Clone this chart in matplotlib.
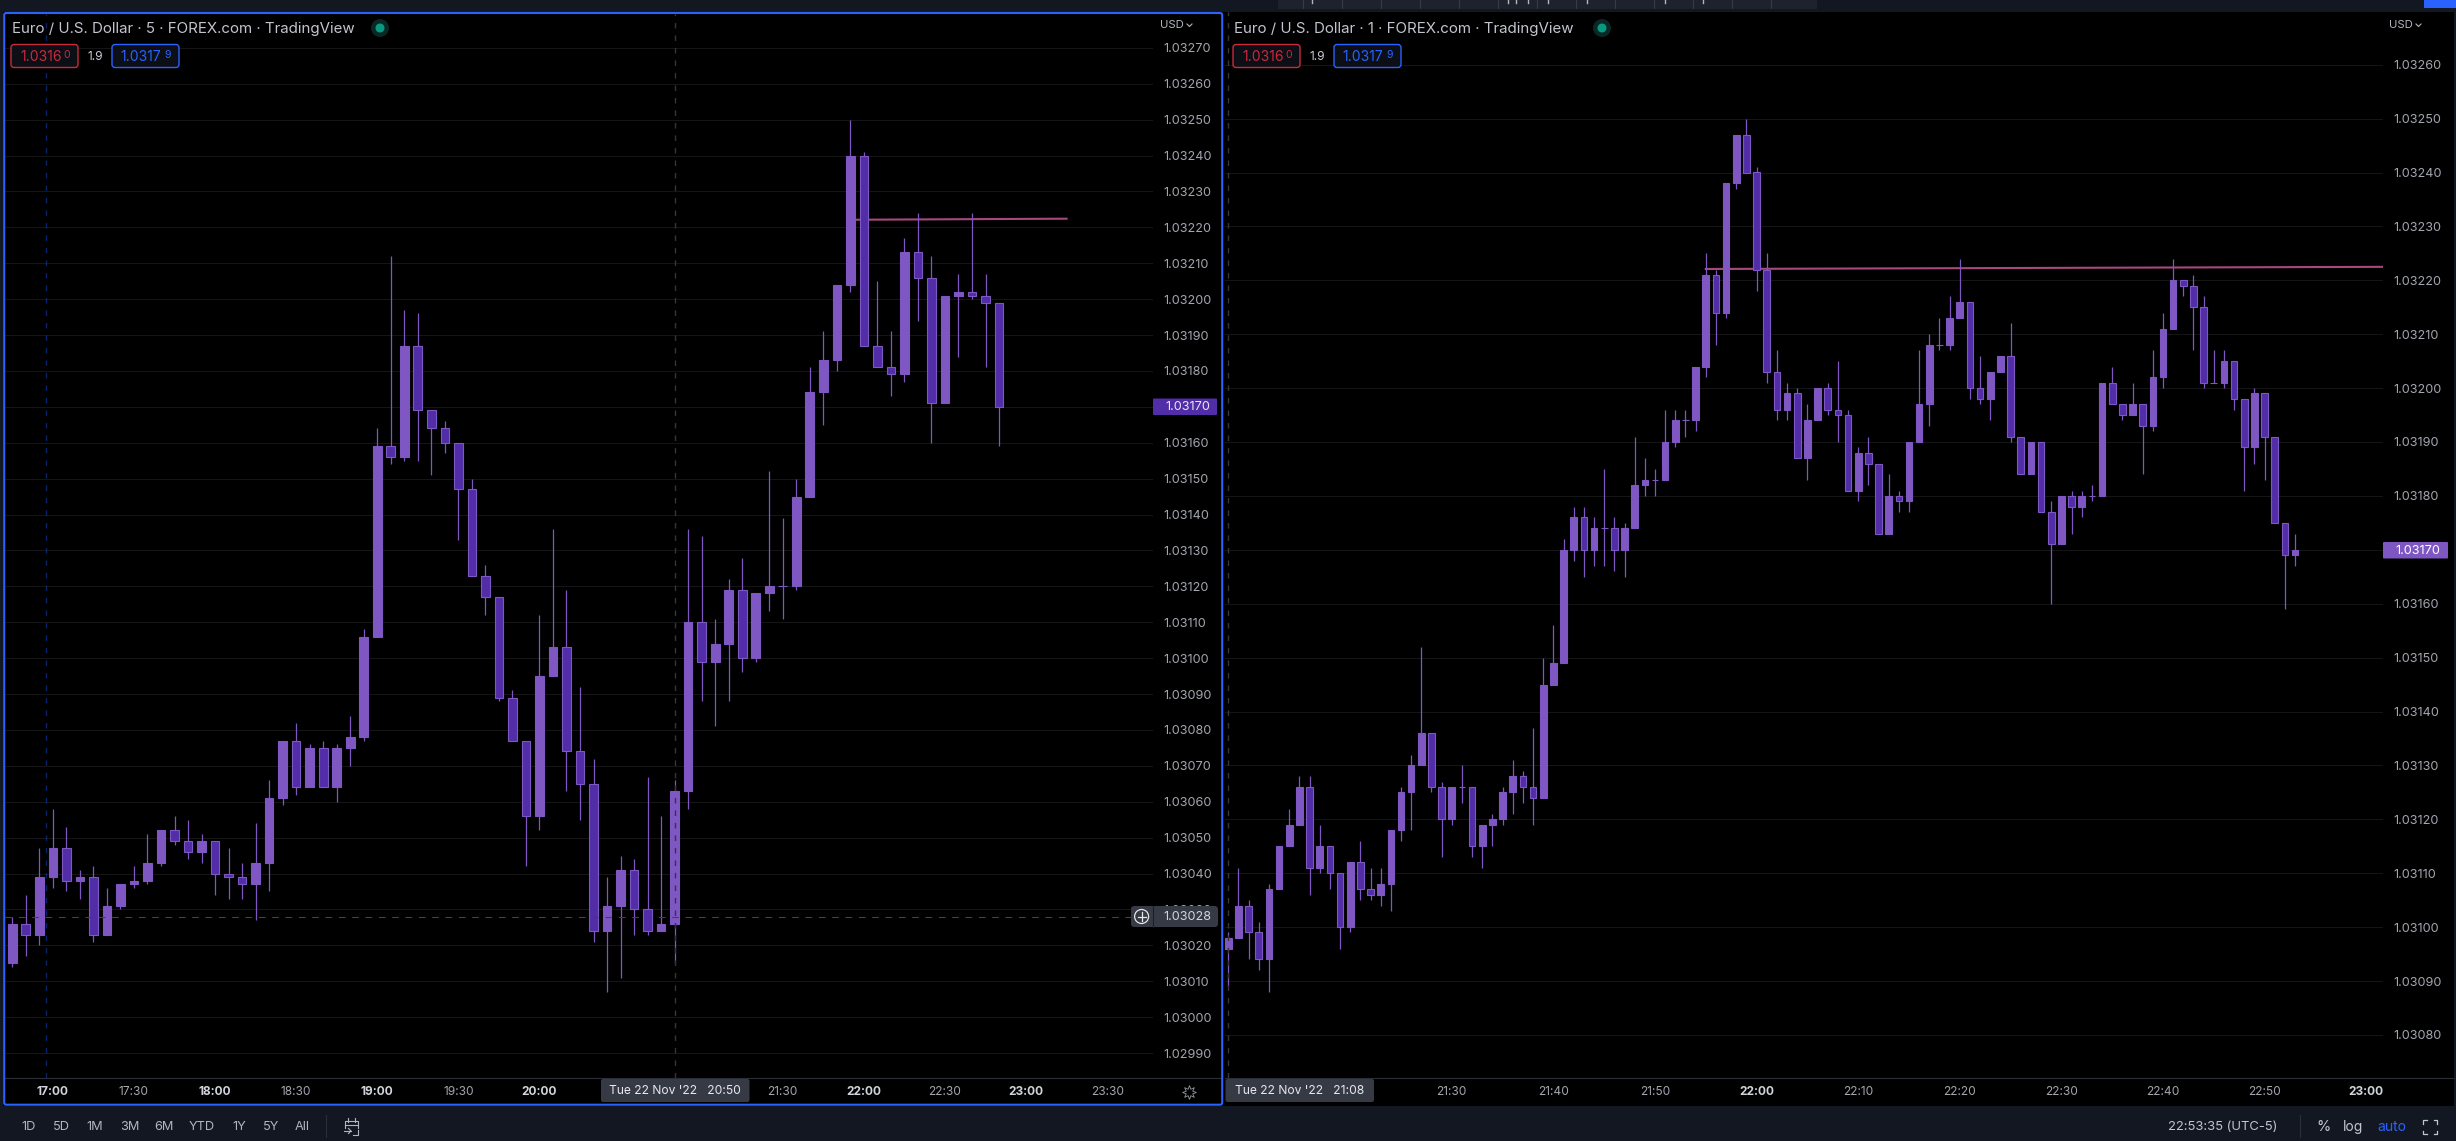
import matplotlib
matplotlib.use('Agg')
import matplotlib.pyplot as plt
from matplotlib.patches import FancyBboxPatch, Rectangle, Circle
from matplotlib.ticker import FuncFormatter
import numpy as np

W, H = 2456, 1141
plt.rcParams['font.family'] = ['Inter', 'DejaVu Sans']

BASE = 1.03
UP = '#7e57c2'
DOWN = '#512da8'
PINK = '#a8487f'

# 5 minute chart, prices in points above 1.03000, first bar 16:45
left_start = 16 * 60 + 45
left_open = [15,26,23,39,47,38,39,23,31,37,
             38,43,52,49,46,49,40,39,37,43,
             61,77,64,75,64,75,78,106,159,156,
             187,169,164,160,147,123,117,89,77,56,
             95,103,74,65,24,31,41,30,24,26,
             63,110,99,104,119,100,118,120,120,145,
             174,183,204,240,187,181,179,213,206,171,
             201,202,201,199]
left_high = [28,34,47,58,53,41,42,36,37,42,
             51,52,56,55,51,49,47,43,54,66,
             77,82,76,77,76,84,108,164,212,197,
             196,169,166,160,150,126,117,91,77,112,
             136,119,92,72,39,45,44,67,56,66,
             136,134,111,122,128,118,152,139,150,181,
             191,204,250,241,205,191,217,224,212,201,
             207,224,207,199]
left_low = [14,17,20,36,35,33,21,23,30,36,
            37,42,48,44,43,34,33,33,27,35,
            59,62,64,64,60,70,77,106,154,155,
            155,151,157,133,123,112,88,77,42,52,
            95,63,55,21,7,11,23,23,24,15,
            58,88,81,88,96,99,113,111,119,145,
            165,180,202,187,181,173,177,194,160,171,
            184,200,181,159]
left_close = [26,23,39,47,38,39,23,31,37,38,
              43,52,49,46,49,40,39,37,43,61,
              77,64,75,64,75,78,106,159,156,187,
              169,164,160,147,123,117,89,77,56,95,
              103,74,65,24,31,41,30,24,26,63,
              110,99,104,119,100,118,120,120,145,174,
              183,204,240,187,181,179,213,206,171,201,
              202,201,199,170]

# 1 minute chart, first bar 21:08
right_start = 21 * 60 + 8
right_open = [96,98,104,99,94,107,115,119,126,111,
              115,110,100,112,107,106,108,118,125,130,
              136,126,120,126,126,115,119,120,125,128,
              126,124,145,149,170,176,170,174,174,170,
              174,182,183,183,190,194,194,204,221,214,
              238,247,240,222,203,196,199,187,194,200,
              196,195,181,188,186,173,180,179,190,197,
              208,208,213,216,200,198,203,206,191,184,
              190,177,171,180,178,180,180,201,197,195,
              197,193,202,211,220,219,215,201,201,205,
              198,189,199,191,175,169]
right_high = [99,111,105,101,108,115,122,128,128,119,
              115,110,112,116,111,111,118,126,132,152,
              136,127,126,130,126,119,121,126,131,129,
              137,150,156,172,178,178,176,185,176,175,
              191,187,185,196,196,196,204,225,222,238,
              247,250,241,225,207,201,200,197,200,201,
              205,196,189,191,186,184,181,190,207,210,
              213,217,224,216,206,203,206,212,191,190,
              190,179,180,181,181,182,201,204,197,201,
              197,207,214,224,220,221,217,207,207,205,
              198,200,199,191,175,173]
right_low = [89,98,94,92,88,107,115,119,106,110,
             107,96,99,105,105,104,103,116,118,130,
             125,113,119,123,113,111,115,119,121,123,
             119,124,145,149,168,165,167,167,166,165,
             174,180,180,183,189,191,192,202,208,213,
             237,240,218,201,194,194,187,183,194,195,
             190,181,179,182,173,173,177,177,190,193,
             207,207,213,198,197,194,203,190,184,184,
             177,160,171,173,176,179,180,197,194,195,
             184,192,200,211,217,207,200,201,200,196,
             181,186,183,175,159,167]
right_close = [98,104,99,94,107,115,119,126,111,115,
               110,100,112,107,106,108,118,125,130,136,
               126,120,126,126,115,119,120,125,128,126,
               124,145,149,170,176,170,174,174,170,174,
               182,183,183,190,194,194,204,221,214,238,
               247,240,222,203,196,199,187,194,200,196,
               195,181,188,186,173,180,179,190,197,208,
               208,213,216,200,198,203,206,191,184,190,
               177,171,180,178,180,180,201,197,195,197,
               193,202,211,220,219,215,201,201,205,198,
               189,199,191,175,169,170]

left_ticks = ['17:00','17:30','18:00','18:30','19:00','19:30','20:00','21:30','22:00','22:30','23:00','23:30']
right_ticks = ['21:30','21:40','21:50','22:00','22:10','22:20','22:30','22:40','22:50','23:00']
left_levels = list(range(-10, 271, 10))
right_levels = list(range(80, 261, 10))
left_trend = [(21 * 60 + 55, 222.1), (23 * 60 + 15, 222.4)]
right_trend = [(21 * 60 + 55, 222.1), (23 * 60 + 2, 222.5)]
range_buttons = ['1D', '5D', '1M', '3M', '6M', 'YTD', '1Y', '5Y', 'All']
range_x = [29, 61, 95, 130, 164, 202, 239, 271, 302]


def price(points):
    return BASE + np.asarray(points, dtype=float) / 1e5


def minutes(label):
    return int(label[:2]) * 60 + int(label[3:])


def make_axes(fig, x0, y0, x1, y1):
    ax = fig.add_axes([x0 / W, 1 - y1 / H, (x1 - x0) / W, (y1 - y0) / H])
    ax.set_facecolor('black')
    for s in ax.spines.values():
        s.set_visible(False)
    return ax


def candles(ax, start, step, width, o, h, l, c):
    o, h, l, c = np.array(o), np.array(h), np.array(l), np.array(c)
    x = start + step * np.arange(len(o))
    fills = [UP if b >= a else DOWN for a, b in zip(o, c)]
    ax.vlines(x, price(l), price(h), color=UP, lw=0.9, zorder=3)
    ax.bar(x, price(np.abs(c - o)) - BASE, bottom=price(np.minimum(o, c)), width=width,
           color=fills, edgecolor=UP, linewidth=0.8, zorder=4)


def style_axis(ax, levels, ticks):
    ax.yaxis.tick_right()
    ax.set_yticks(price(levels))
    ax.yaxis.set_major_formatter(FuncFormatter(lambda v, p: '%.5f' % v))
    ax.set_xticks([minutes(t) for t in ticks])
    ax.set_xticklabels(ticks)
    ax.tick_params(axis='y', length=0, pad=7.8, labelsize=9.1, labelcolor='#a3a6af')
    ax.tick_params(axis='x', length=0, pad=5.5, labelsize=8.6, labelcolor='#a3a6af')
    for lab, t in zip(ax.get_xticklabels(), ticks):
        if t.endswith(':00'):
            lab.set_fontweight('bold')
            lab.set_color('#d1d4dc')
    ax.grid(axis='y', color='#151515', lw=0.75, zorder=0)
    ax.set_axisbelow(True)


fig = plt.figure(figsize=(W / 100, H / 100), dpi=100, facecolor='#131722')

# black panels behind both charts
back = fig.add_axes([0, 0, 1, 1], zorder=-1)
back.set_xlim(0, W)
back.set_ylim(H, 0)
back.axis('off')
back.add_patch(Rectangle((3, 12), 2451, 1094, color='black', lw=0))

# left chart
ax1 = make_axes(fig, 5, 14, 1153, 1078)
candles(ax1, left_start, 5, 3.2, left_open, left_high, left_low, left_close)
ax1.set_xlim(1005 + (5 - 12.3) / 2.7034, 1005 + (1153 - 12.3) / 2.7034)
ax1.set_ylim(price(20 - (1078 - 945.3) / 3.59), price(20 + (945.3 - 14) / 3.59))
style_axis(ax1, left_levels, left_ticks)
ax1.plot([p[0] for p in left_trend], price([p[1] for p in left_trend]), color=PINK, lw=1.5, zorder=2)
ax1.axvline(20 * 60 + 50, color='#363636', lw=1, ls=(0, (4, 5)), zorder=5)
ax1.axvline(1005 + 12.6, color='#0d3bb0', lw=1, alpha=0.6, ls=(0, (4, 5)), zorder=5)
ax1.axhline(price(28), color='#444444', lw=0.8, ls=(0, (6, 6)), zorder=5)

# right chart
ax2 = make_axes(fig, 1225, 12, 2383, 1078)
candles(ax2, right_start, 1, 0.65, right_open, right_high, right_low, right_close)
ax2.set_xlim(1320 + (1225 - 1756.6) / 10.16, 1320 + (2383 - 1756.6) / 10.16)
ax2.set_ylim(price(220 - (1078 - 280.3) / 5.39), price(220 + (280.3 - 12) / 5.39))
style_axis(ax2, right_levels, right_ticks)
ax2.plot([p[0] for p in right_trend], price([p[1] for p in right_trend]), color=PINK, lw=1.5, zorder=2)
ax2.axvline(right_start, color='#363636', lw=1, ls=(0, (4, 5)), zorder=5)

# everything around the charts is placed in pixels
ov = fig.add_axes([0, 0, 1, 1], zorder=10)
ov.set_xlim(0, W)
ov.set_ylim(H, 0)
ov.axis('off')
ov.patch.set_alpha(0)


def box(x0, y0, x1, y1, color, edge=None, r=3, lw=1.0, z=3):
    ov.add_patch(FancyBboxPatch((x0 + r, y0 + r), x1 - x0 - 2 * r, y1 - y0 - 2 * r,
                                boxstyle='round,pad=%f,rounding_size=%f' % (r, r),
                                facecolor=color, edgecolor=edge if edge else 'none', lw=lw, zorder=z))


def txt(x, y, s, color='#d1d4dc', size=9.1, ha='center', weight='normal', z=5):
    ov.text(x, y, s, color=color, fontsize=size, ha=ha, va='center', fontweight=weight, zorder=z)


# top toolbar strip
ov.add_patch(Rectangle((1278, 0), 539, 9, color='#1e222d', lw=0))
for x in range(1303, 1800, 39):
    ov.plot([x, x], [0, 8], color='#363a45', lw=0.8)
for x in [1312, 1508, 1516, 1528, 1548, 1587, 1665, 1703]:
    ov.plot([x, x], [0, 3], color='#b2b5be', lw=1)
ov.add_patch(Rectangle((2424, 0), 32, 8, color='#2962ff', lw=0))

# chart headers
for x0, title, dot in [(12, 'Euro / U.S. Dollar · 5 · FOREX.com · TradingView', 380),
                       (1234, 'Euro / U.S. Dollar · 1 · FOREX.com · TradingView', 1602)]:
    txt(x0, 28.5, title, color='#c2c5ce', size=10.85, ha='left')
    ov.add_patch(Circle((dot, 28), 9, color='#0a2825', lw=0))
    ov.add_patch(Circle((dot, 28), 4.5, color='#089981', lw=0))

for x0 in [11, 1233]:
    box(x0, 44.5, x0 + 67, 67.5, '#0c0f16', edge='#c92a3c')
    txt(x0 + 9, 57, '1.0316', color='#c92a3c', size=10.0, ha='left')
    txt(x0 + 52.5, 54.5, '0', color='#c92a3c', size=7.6, ha='left')
    txt(x0 + 84.5, 57.5, '1.9', color='#c8cbd3', size=8.6)
    box(x0 + 101, 44.5, x0 + 168, 67.5, '#0c0f16', edge='#2962ff')
    txt(x0 + 109, 57, '1.0317', color='#2962ff', size=10.0, ha='left')
    txt(x0 + 153, 54.5, '9', color='#2962ff', size=7.6, ha='left')

for x in [1172, 2401]:
    txt(x, 25, 'USD', color='#b2b5be', size=8.2)
    ov.plot([x + 15, x + 17.5, x + 20], [24, 26.5, 24], color='#b2b5be', lw=0.8)

# separators above the time axis
ov.plot([5, 1221], [1078, 1078], color='#2a2e39', lw=0.8)
ov.plot([1225, 2454], [1078, 1078], color='#2a2e39', lw=0.8)

# last price tags
box(1153, 398.5, 1217, 415, DOWN, r=1)
txt(1187.5, 407, '1.03170', color='#e8e8f0')
box(2383, 542, 2448, 558.5, UP, r=1)
txt(2418, 550.5, '1.03170', color='#ffffff')

# crosshair tags
box(1131, 906, 1218, 927, '#363a45', r=3)
ov.plot([1153, 1153], [906, 927], color='#1c1f28', lw=0.8, zorder=4)
ov.add_patch(Circle((1141.6, 916.5), 7, facecolor='none', edgecolor='#e6e6e6', lw=0.9, zorder=5))
ov.plot([1137.5, 1145.7], [916.5, 916.5], color='#e6e6e6', lw=0.9, zorder=5)
ov.plot([1141.6, 1141.6], [912.4, 920.6], color='#e6e6e6', lw=0.9, zorder=5)
txt(1187.5, 917, '1.03028')

box(601, 1079, 749.5, 1102, '#363a45', r=2)
txt(675, 1091, "Tue 22 Nov '22   20:50", color='#e6e8ee', size=8.7)
box(1225.5, 1079, 1374, 1102, '#363a45', r=2)
txt(1300, 1091, "Tue 22 Nov '22   21:08", color='#e6e8ee', size=8.7)

# gear on the left price axis
ov.plot([1189], [1092], marker=(8, 1, 0), ms=10, mfc='none', mec='#9598a1', mew=0.6)

# border of the active chart
box(4.2, 13, 1222.2, 1104.7, 'none', edge='#2962ff', r=2, lw=1.5, z=6)

# bottom bar
for lab, x in zip(range_buttons, range_x):
    txt(x, 1127, lab, color='#b2b5be', size=9.2)
ov.plot([326, 326], [1115, 1137], color='#2a2e39', lw=0.8)
ov.plot([345, 345, 358, 358], [1128, 1121, 1121, 1128], color='#b2b5be', lw=0.8)
ov.plot([345, 358], [1125, 1125], color='#b2b5be', lw=0.8)
ov.plot([348, 348], [1118, 1122], color='#b2b5be', lw=0.8)
ov.plot([355, 355], [1118, 1122], color='#b2b5be', lw=0.8)
ov.plot([344, 351], [1131, 1131], color='#b2b5be', lw=0.8)
ov.plot([348.5, 351, 348.5], [1128.5, 1131, 1133.5], color='#b2b5be', lw=0.8)
ov.plot([353, 358, 358], [1135, 1135, 1130], color='#b2b5be', lw=0.8)

txt(2223, 1127, '22:53:35 (UTC-5)', color='#c2c5ce', size=9.4)
ov.plot([2300, 2300], [1115, 1137], color='#2a2e39', lw=0.8)
txt(2323, 1127, '%', color='#c2c5ce', size=10.4)
txt(2353, 1127, 'log', color='#c2c5ce', size=10.0)
txt(2391.5, 1127, 'auto', color='#2962ff', size=10.0)
for sx in (-1, 1):
    for sy in (-1, 1):
        cx, cy = 2430 + sx * 7, 1127 + sy * 7
        ov.plot([cx - sx * 3.5, cx, cx], [cy, cy, cy - sy * 3.5], color='#c2c5ce', lw=0.9)

fig.savefig('out.png', dpi=100, facecolor=fig.get_facecolor())
